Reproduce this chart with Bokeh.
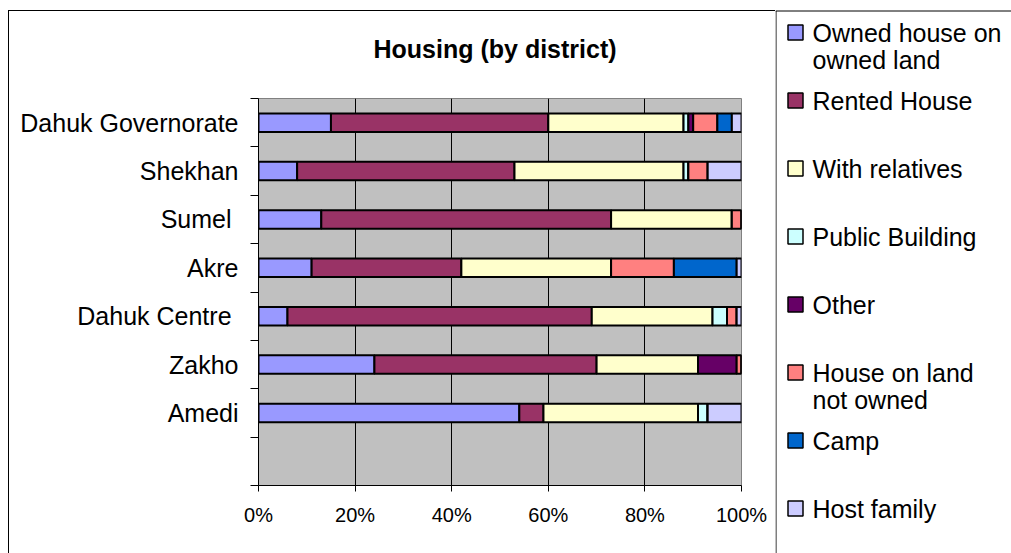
from bokeh.plotting import figure
from bokeh.models import ColumnDataSource, Range1d, FixedTicker, PrintfTickFormatter
from bokeh.embed import file_html
from bokeh.resources import INLINE
from bokeh.core.properties import value

# ---------------- data (districts listed bottom -> top) ----------------
districts = ["Amedi", "Zakho", "Dahuk Centre ", "Akre", "Sumel ", "Shekhan", "Dahuk Governorate"]
series_names = ["Owned house on\nowned land", "Rented House", "With relatives", "Public Building",
                "Other", "House on land\nnot owned", "Camp", "Host family"]
series_colors = ["#9999FF", "#993366", "#FFFFCC", "#CCFFFF", "#660066", "#FF8080", "#0066CC", "#CCCCFF"]
owned_house = [54, 24, 6, 11, 13, 8, 15]
rented_house = [5, 46, 63, 31, 60, 45, 45]
with_relatives = [32, 21, 25, 31, 25, 35, 28]
public_building = [2, 0, 3, 0, 0, 1, 1]
other = [0, 8, 0, 0, 0, 0, 1]
house_not_owned = [0, 1, 2, 13, 2, 4, 5]
camp = [0, 0, 0, 13, 0, 0, 3]
host_family = [7, 0, 1, 1, 0, 7, 2]
x_ticks = [0, 20, 40, 60, 80, 100]
title_text = "Housing (by district)"

FONT = "Liberation Sans"
n = len(districts)
slots = n + 1  # one empty category slot below the last district
y_centers = [i + 1.5 for i in range(n)]
series_values = [owned_house, rented_house, with_relatives, public_building,
                 other, house_not_owned, camp, host_family]
keys = [f"s{i}" for i in range(len(series_names))]
data = {"y": y_centers}
for k, vals in zip(keys, series_values):
    data[k] = vals
source = ColumnDataSource(data)

H = 553
W_A, W_B = 775, 236
FL, FR, FT, FB = 258, 741, 98, 485   # plot-area edges in canvas pixels

# ---------------- chart ----------------
p = figure(width=W_A, height=H, x_range=Range1d(0, 100), y_range=Range1d(0, slots),
           output_backend="svg", toolbar_location=None,
           min_border_left=FL, min_border_right=W_A - FR, min_border_top=FT, min_border_bottom=H - FB)
p.background_fill_color = "#C0C0C0"
p.border_fill_alpha = 0
p.outline_line_color = "#808080"
# outer chart border: top and left edges
p.styles = {"background": "linear-gradient(#000, #000) 8px 10px / 1px 100% no-repeat, "
                          "linear-gradient(#000, #000) 8px 10px / 100% 1px no-repeat, #fff"}

rs = p.hbar_stack(keys, y="y", height=0.38, fill_color=series_colors,
                  line_color="black", line_width=2, source=source)

p.title.text = title_text
p.title.align = "left"
p.title.offset = 115
p.title.vertical_align = "top"
p.title.text_font = FONT
p.title.text_font_size = "25px"
p.title.text_font_style = "bold"
p.title.text_color = "black"
p.title.standoff = 67

xa = p.xaxis[0]
xa.ticker = FixedTicker(ticks=x_ticks)
xa.formatter = PrintfTickFormatter(format="%d%%")
xa.major_label_text_font = FONT
xa.major_label_text_font_size = "20px"
xa.major_label_text_color = "black"
xa.major_tick_out = 6
xa.major_tick_in = 0
xa.major_tick_line_color = "black"
xa.axis_line_color = "black"
xa.major_label_standoff = 12

ya = p.yaxis[0]
ya.ticker = FixedTicker(ticks=y_centers, minor_ticks=list(range(slots + 1)))
ya.major_label_overrides = {yc: name for yc, name in zip(y_centers, districts)}
ya.major_label_text_font = FONT
ya.major_label_text_font_size = "25px"
ya.major_label_text_color = "black"
ya.major_tick_out = 0
ya.major_tick_in = 0
ya.minor_tick_out = 8
ya.minor_tick_in = 0
ya.minor_tick_line_color = "black"
ya.axis_line_color = "black"
ya.major_label_standoff = 12

p.xgrid.ticker = FixedTicker(ticks=x_ticks)
p.xgrid.grid_line_color = "black"
p.ygrid.grid_line_color = None

# ---------------- legend panel (pixel-unit ranges) ----------------
q = figure(width=W_B, height=H, x_range=Range1d(0, W_B), y_range=Range1d(H, 0),
           output_backend="svg", toolbar_location=None, min_border=0,
           x_axis_location=None, y_axis_location=None)
q.outline_line_color = None
q.grid.visible = False
q.background_fill_color = "white"
q.border_fill_color = "white"
q.styles = {"position": "absolute", "left": f"{W_A}px", "top": "0px"}

BOX_TOP = 10.5
q.segment(x0=[0.5, 0], y0=[BOX_TOP, BOX_TOP], x1=[0.5, W_B], y1=[H, BOX_TOP],
          line_color="black", line_width=1)

ITEM_Y0, ITEM_STEP, LINE_STEP = 32, 68, 27
sq_y = [ITEM_Y0 + ITEM_STEP * i for i in range(len(series_names))]
q.rect(x=[20] * len(series_names), y=sq_y, width=15, height=15,
       fill_color=series_colors, line_color="black", line_width=1.5)
tx, ty, tt = [], [], []
for i, name in enumerate(series_names):
    for j, line in enumerate(name.split("\n")):
        tx.append(37)
        ty.append(sq_y[i] + LINE_STEP * j)
        tt.append(line)
q.text(x=tx, y=ty, text=tt, text_font=value(FONT), text_font_size="25px",
       text_baseline="middle", text_align="left", text_color="black")

open("out.html", "w").write(file_html([p, q], INLINE))
